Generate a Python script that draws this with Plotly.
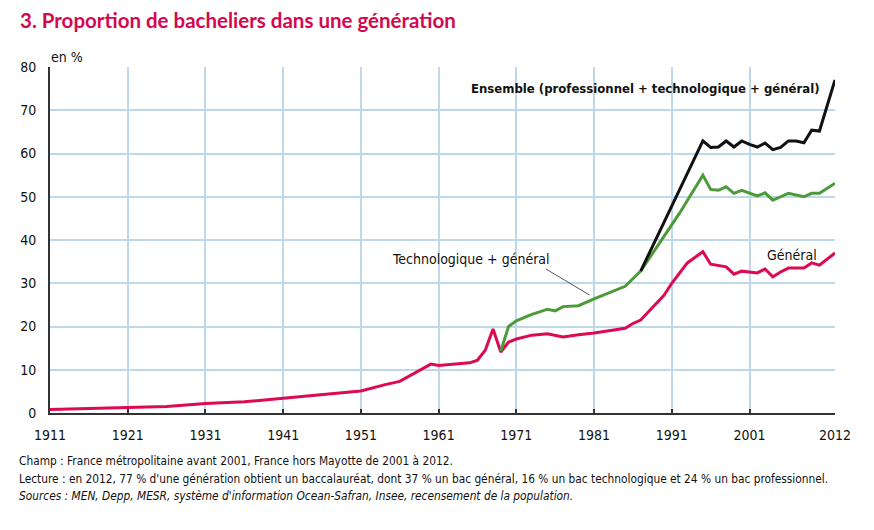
import plotly.graph_objects as go

# ---- data ----
gen_years = [1911, 1921, 1926, 1931, 1936, 1941, 1946, 1951, 1954, 1956, 1960, 1961, 1965, 1966, 1967, 1968,
             1969, 1970, 1971, 1972, 1973, 1975, 1977, 1979, 1981, 1985, 1986, 1987, 1988, 1989, 1990,
             1991, 1992, 1993, 1995, 1996, 1998, 1999, 2000, 2002, 2003, 2004, 2005, 2006, 2008, 2009,
             2010, 2012]
gen_vals = [0.8, 1.2, 1.5, 2.2, 2.6, 3.4, 4.3, 5.1, 6.5, 7.3, 11.3, 11.0, 11.6, 12.2, 14.5, 19.4,
            14.1, 16.4, 17.1, 17.6, 18.0, 18.3, 17.6, 18.1, 18.5, 19.6, 20.7, 21.5, 23.4, 25.4, 27.2,
            30.0, 32.3, 34.7, 37.3, 34.4, 33.8, 32.1, 32.8, 32.4, 33.3, 31.5, 32.6, 33.5, 33.5, 34.7,
            34.2, 37.0]

tg_years = [1969, 1970, 1971, 1972, 1973, 1974, 1975, 1976, 1977, 1979, 1981, 1985, 1987, 1992, 1995,
            1996, 1997, 1998, 1999, 2000, 2002, 2003, 2004, 2005, 2006, 2008, 2009, 2010, 2012]
tg_vals = [14.3, 20.0, 21.3, 22.1, 22.8, 23.4, 24.0, 23.6, 24.6, 24.8, 26.4, 29.3, 32.8, 46.2, 55.0,
           51.7, 51.5, 52.3, 50.8, 51.5, 50.2, 50.9, 49.2, 50.0, 50.8, 50.0, 50.8, 50.8, 53.1]

all_years = [1987, 1995, 1996, 1997, 1998, 1999, 2000, 2001, 2002, 2003, 2004, 2005, 2006, 2007,
             2008, 2009, 2010, 2012]
all_vals = [32.8, 62.9, 61.4, 61.5, 62.9, 61.5, 62.9, 62.1, 61.5, 62.4, 60.9, 61.4, 62.9, 62.9,
            62.5, 65.4, 65.2, 77.0]

x_ticks = [1911, 1921, 1931, 1941, 1951, 1961, 1971, 1981, 1991, 2001, 2012]
y_ticks = [0, 10, 20, 30, 40, 50, 60, 70, 80]

PINK = "#dc0a50"
GREEN = "#4d9a3a"
BLACK = "#111111"
GRID = "#bcd8ea"
FONT = "DejaVu Sans Condensed, Liberation Sans Narrow, sans-serif"

# page has an 8px body margin: figure drawn from (8, 8)
OFF = 8
PL, PT, PW, PH = 47, 67, 788, 346   # plot area in page pixels

fig = go.Figure()
fig.add_trace(go.Scatter(x=gen_years, y=gen_vals, mode="lines",
                         line=dict(color=PINK, width=3), hoverinfo="skip"))
fig.add_trace(go.Scatter(x=tg_years, y=tg_vals, mode="lines",
                         line=dict(color=GREEN, width=3), hoverinfo="skip"))
fig.add_trace(go.Scatter(x=all_years, y=all_vals, mode="lines",
                         line=dict(color=BLACK, width=3), hoverinfo="skip"))

# white patch interrupting grid (as in reference)
fig.add_shape(type="rect", xref="x", yref="y", x0=1966, x1=1985, y0=55, y1=59.5,
              fillcolor="white", line=dict(width=0), layer="below")

# pointer line for "Technologique + général"
fig.add_shape(type="line", xref="x", yref="y", x0=1974.8, y0=33.3, x1=1980.4, y1=27.3,
              line=dict(color="#555555", width=1))

fig.update_layout(
    width=874 - OFF, height=530 - OFF,
    margin=dict(l=PL - OFF, r=874 - (PL + PW), t=PT - OFF, b=530 - (PT + PH)),
    paper_bgcolor="white", plot_bgcolor="white",
    showlegend=False,
    font=dict(family=FONT, size=14, color="#111111"),
)

fig.update_xaxes(range=[1911, 2012], tickvals=x_ticks, ticktext=[str(v) for v in x_ticks],
                 showgrid=True, gridcolor=GRID, gridwidth=1.5,
                 showline=True, linecolor="#333333", linewidth=2,
                 ticks="inside", ticklen=4, tickcolor="#333333", tickwidth=1.5,
                 zeroline=False, ticklabelstandoff=8, tickfont=dict(size=14, family=FONT))
fig.update_yaxes(range=[0, 80], tickvals=y_ticks,
                 showgrid=True, gridcolor=GRID, gridwidth=1.5,
                 showline=True, linecolor="#333333", linewidth=2,
                 ticks="", zeroline=False, ticklabelstandoff=9,
                 tickfont=dict(size=14, family=FONT))


def px_x(px):
    return (px - PL) / PW


def px_y(py):
    return (PT + PH - py) / PH


ann = []
ann.append(dict(text="<b>3. Proportion de bacheliers dans une génération</b>",
                xref="paper", yref="paper", x=px_x(15), y=px_y(20), xanchor="left",
                yanchor="middle", showarrow=False,
                font=dict(family="Lato, Open Sans, sans-serif", size=20.5, color="#d4084e")))
ann.append(dict(text="en %", xref="paper", yref="paper", x=px_x(46), y=px_y(57), xanchor="left",
                yanchor="middle", showarrow=False, font=dict(size=14, family=FONT)))
ann.append(dict(text="<b>Ensemble (professionnel + technologique + général)</b>", xref="x", yref="y",
                x=2010.3, y=75.1, xanchor="right", yanchor="middle", showarrow=False,
                font=dict(size=13, family=FONT, color="#111111")))
ann.append(dict(text="Technologique + général", xref="x", yref="y", x=1954.7, y=35.6,
                xanchor="left", yanchor="middle", showarrow=False,
                font=dict(size=14, family=FONT, color="#111111")))
ann.append(dict(text="Général", xref="x", yref="y", x=2003.0, y=36.5,
                xanchor="left", yanchor="middle", showarrow=False,
                font=dict(size=14, family=FONT, color="#111111")))
notes = [
    "Champ : France métropolitaine avant 2001, France hors Mayotte de 2001 à 2012.",
    "Lecture : en 2012, 77 % d'une génération obtient un baccalauréat, dont 37 % un bac général, 16 % un bac technologique et 24 % un bac professionnel.",
    "<i>Sources : MEN, Depp, MESR, système d'information Ocean-Safran, Insee, recensement de la population.</i>",
]
for i, t in enumerate(notes):
    ann.append(dict(text=t, xref="paper", yref="paper", x=px_x(14), y=px_y(461 + 17.5 * i),
                    xanchor="left", yanchor="middle", showarrow=False,
                    font=dict(size=11.8, family=FONT, color="#111111")))
fig.update_layout(annotations=ann)

fig.write_html("out.html")
